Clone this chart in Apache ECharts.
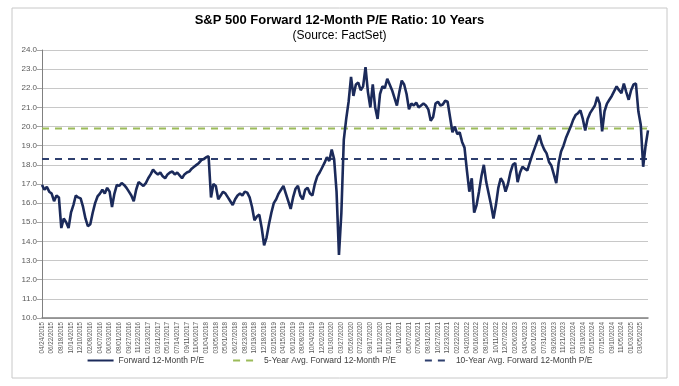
<!DOCTYPE html>
<html>
<head>
<meta charset="utf-8">
<script src="https://cdn.jsdelivr.net/npm/echarts@6/dist/echarts.min.js"></script>
<style>
  html, body { margin: 0; padding: 0; background: #fff; }
  #peChart { width: 679px; height: 386px; }
</style>
</head>
<body>
<div id="peChart"></div>
<script>
// tick labels on the x axis, one every 40 trading days
var tickLabels = ['04/24/2015','06/22/2015','08/18/2015','10/14/2015','12/10/2015','02/08/2016','04/07/2016','06/03/2016','08/01/2016','09/27/2016','11/22/2016','01/23/2017','03/21/2017','05/17/2017','07/14/2017','09/11/2017','11/06/2017','01/04/2018','03/05/2018','05/01/2018','06/27/2018','08/23/2018','10/19/2018','12/18/2018','02/15/2019','04/15/2019','06/12/2019','08/08/2019','10/04/2019','12/02/2019','01/30/2020','03/27/2020','05/26/2020','07/22/2020','09/17/2020','11/12/2020','01/12/2021','03/11/2021','05/07/2021','07/06/2021','08/31/2021','10/27/2021','12/23/2021','02/22/2022','04/20/2022','06/16/2022','08/15/2022','10/11/2022','12/07/2022','02/06/2023','04/04/2023','06/01/2023','07/31/2023','09/26/2023','11/21/2023','01/22/2024','03/19/2024','05/15/2024','07/15/2024','09/10/2024','11/05/2024','01/03/2025','03/05/2025'];

// forward 12-month P/E (4 readings per tick interval)
var forwardPE = [
  16.95,16.7,16.85,16.6,16.5,16.1,16.4,16.3,14.7,15.2,15.0,14.7,15.5,15.9,16.4,16.3,
  16.25,15.8,15.2,14.8,14.9,15.5,16.0,16.35,16.5,16.7,16.5,16.8,16.6,15.8,16.5,16.95,
  16.9,17.05,16.95,16.8,16.6,16.4,16.1,16.7,17.1,17.0,16.9,17.05,17.3,17.5,17.75,17.6,
  17.5,17.6,17.4,17.3,17.5,17.6,17.65,17.5,17.6,17.45,17.3,17.5,17.6,17.65,17.8,17.9,
  18.0,18.1,18.25,18.3,18.4,18.45,16.3,17.0,16.9,16.2,16.4,16.6,16.5,16.3,16.1,15.9,
  16.2,16.4,16.5,16.4,16.6,16.55,16.3,15.8,15.1,15.3,15.4,14.7,13.8,14.2,14.9,15.5,
  16.0,16.2,16.5,16.7,16.9,16.5,16.1,15.7,16.3,16.75,16.9,16.4,16.2,16.7,16.8,16.5,
  16.4,17.0,17.4,17.6,17.85,18.1,18.4,18.2,18.8,18.3,16.6,13.3,15.5,19.3,20.4,21.3,
  22.6,21.6,22.2,22.3,21.9,22.1,23.1,21.8,21.0,22.2,21.0,20.4,21.7,22.1,22.0,22.5,
  22.2,21.9,21.5,21.1,21.8,22.4,22.2,21.7,20.9,21.2,21.1,21.25,21.0,21.1,21.2,21.1,
  20.9,20.3,20.5,21.2,21.3,21.1,21.15,21.35,21.3,20.5,19.7,20.0,19.6,19.7,19.2,18.9,
  17.7,16.6,17.3,15.5,15.9,16.6,17.4,18.0,17.1,16.5,15.9,15.2,15.9,16.8,17.3,17.1,
  16.6,17.0,17.6,18.0,18.1,17.1,17.6,17.9,17.8,17.7,18.1,18.5,18.85,19.2,19.55,19.1,
  18.8,18.6,18.15,17.95,17.5,17.05,18.1,18.7,19.0,19.4,19.7,20.0,20.35,20.6,20.7,20.85,
  20.4,19.8,20.4,20.7,20.9,21.1,21.55,21.2,19.75,20.8,21.2,21.4,21.6,21.85,22.1,21.9,
  21.75,22.25,21.8,21.4,21.9,22.2,22.25,20.8,20.1,17.9,19.0,19.8
];

var avg5Year = 19.9;
var avg10Year = 18.3;
var pointsPerTick = 4;

// category axis: every 4th point carries a tick label
var categories = forwardPE.map(function (v, i) {
    return i % pointsPerTick === 0 ? (tickLabels[i / pointsPerTick] || '') : '';
});

var myChart = echarts.init(document.getElementById('peChart'));

var option = {
    animation: false,
    backgroundColor: '#fff',
    textStyle: { fontFamily: 'Liberation Sans, Arial, sans-serif' },
    graphic: [{
        type: 'rect',
        shape: { x: 12, y: 8, width: 655, height: 370 },
        style: { fill: 'none', stroke: '#c8c8c8', lineWidth: 1 },
        z: -1
    }],
    title: {
        text: 'S&P 500 Forward 12-Month P/E Ratio: 10 Years',
        subtext: '(Source: FactSet)',
        left: 'center',
        top: 9,
        itemGap: 3,
        textStyle: { fontSize: 13, fontWeight: 'bold', color: '#000' },
        subtextStyle: { fontSize: 12, color: '#000' }
    },
    legend: {
        bottom: 16,
        left: 'center',
        itemWidth: 26,
        itemHeight: 8,
        itemGap: 28,
        itemStyle: { opacity: 0 },
        textStyle: { fontSize: 8.5, color: '#404040' },
        data: ['Forward 12-Month P/E', '5-Year Avg. Forward 12-Month P/E', '10-Year Avg. Forward 12-Month P/E']
    },
    grid: {
        left: 42,
        right: 31,
        top: 50,
        bottom: 68
    },
    xAxis: {
        type: 'category',
        boundaryGap: false,
        data: categories,
        axisLine: { lineStyle: { color: '#808080', width: 1.5 } },
        axisTick: { show: false },
        axisLabel: {
            rotate: 90,
            fontSize: 6.3,
            color: '#595959',
            margin: 4,
            interval: function (i) { return i % pointsPerTick === 0; }
        },
        splitLine: { show: false }
    },
    yAxis: {
        type: 'value',
        min: 10,
        max: 24,
        interval: 1,
        axisLine: { show: true, lineStyle: { color: '#808080' } },
        axisTick: { show: true, length: 5, lineStyle: { color: '#a6a6a6' } },
        axisLabel: {
            fontSize: 8,
            color: '#595959',
            margin: 5,
            formatter: function (v) { return v.toFixed(1); }
        },
        splitLine: { lineStyle: { color: '#c8c8c8', width: 1 } }
    },
    series: [
        {
            name: '5-Year Avg. Forward 12-Month P/E',
            type: 'line',
            symbol: 'none',
            data: forwardPE.map(function () { return avg5Year; }),
            lineStyle: { color: '#9bbb59', width: 2, type: [7, 6] },
            itemStyle: { color: '#9bbb59' },
            z: 2
        },
        {
            name: '10-Year Avg. Forward 12-Month P/E',
            type: 'line',
            symbol: 'none',
            data: forwardPE.map(function () { return avg10Year; }),
            lineStyle: { color: '#2e3f6e', width: 2, type: [7, 6] },
            itemStyle: { color: '#2e3f6e' },
            z: 2
        },
        {
            name: 'Forward 12-Month P/E',
            type: 'line',
            symbol: 'none',
            data: forwardPE,
            lineStyle: { color: '#1b2a5a', width: 2.6 },
            itemStyle: { color: '#1b2a5a' },
            z: 3
        }
    ]
};

myChart.setOption(option);
</script>
</body>
</html>
